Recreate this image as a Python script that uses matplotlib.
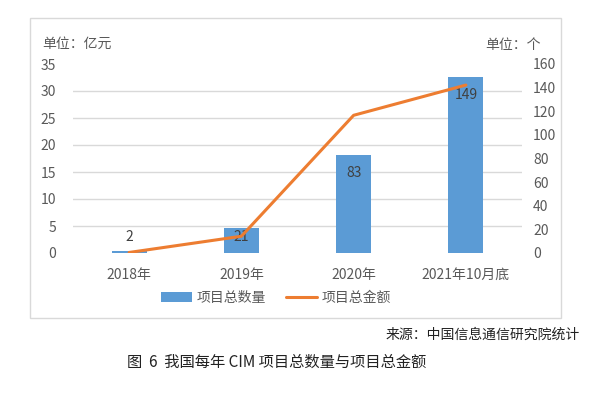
import matplotlib.pyplot as plt
from matplotlib.patches import Rectangle
import numpy as np

plt.rcParams['font.family'] = ['Noto Sans CJK SC', 'DejaVu Sans']

categories = ['2018年', '2019年', '2020年', '2021年10月底']
counts = [2, 21, 83, 149]            # 项目总数量 (个, right axis)
amounts = [0.1, 3.1, 25.5, 31.1]     # 项目总金额 (亿元, left axis)

blue = '#5B9BD5'
orange = '#ED7D31'
txt = '#595959'
grid_c = '#D9D9D9'

fig = plt.figure(figsize=(6, 3.93), dpi=100)

# outer chart frame
fig.patches.append(Rectangle((30 / 600, 1 - 318 / 393), 531 / 600, 300 / 393,
                             transform=fig.transFigure, fill=False,
                             edgecolor='#D9D9D9', linewidth=1))

ax = fig.add_axes([73 / 600, 1 - 253 / 393, 449 / 600, 189 / 393])
ax2 = ax.twinx()

x = np.arange(len(categories))

# left-axis gridlines, drawn on the lower axes so the bars sit on top
ax2.set_ylim(0, 160)
ax2.set_yticks(np.arange(0, 161, 20))
ax2.set_yticks(np.arange(0, 36, 5) * 160 / 35, minor=True)
ax2.grid(axis='y', which='minor', color=grid_c, linewidth=1, zorder=0)
ax2.set_axisbelow(True)

# bars on the right axis
bars = ax2.bar(x, counts, width=0.31, color=blue, zorder=2, label='项目总数量')
for xi, v in zip(x, counts):
    ax2.text(xi, max(v - 15, 13.5), str(v), ha='center', va='center',
             fontsize=10, color='#404040', zorder=4)

# line on the left axis
ax.set_zorder(ax2.get_zorder() + 1)
ax.patch.set_visible(False)
line, = ax.plot(x, amounts, color=orange, linewidth=2.2, zorder=3,
                solid_capstyle='round', label='项目总金额')
ax.set_ylim(0, 35)
ax.set_yticks(np.arange(0, 36, 5))
ax.set_xlim(-0.5, 3.5)
ax.set_xticks(x)
ax.set_xticklabels(categories)

for a in (ax, ax2):
    for s in a.spines.values():
        s.set_visible(False)
    a.tick_params(which='both', length=0, labelsize=10, colors=txt)
ax.tick_params(axis='y', pad=12)
ax2.tick_params(axis='y', pad=8)
ax.tick_params(axis='x', pad=11)

fig.text(42 / 600, 1 - 44 / 393, '单位：亿元', fontsize=10, color=txt, va='center')
fig.text(485 / 600, 1 - 45 / 393, '单位：个', fontsize=10, color=txt, va='center')

fig.legend([bars, line], ['项目总数量', '项目总金额'], loc='center',
           bbox_to_anchor=(0.46, 1 - 298 / 393), ncol=2, frameon=False,
           fontsize=10, labelcolor=txt, handlelength=2.2, columnspacing=1.5,
           handletextpad=0.3)

fig.text(580 / 600, 1 - 335 / 393, '来源：中国信息通信研究院统计', fontsize=10,
         color='#222222', ha='right', va='center')
fig.text(127 / 600, 1 - 362 / 393, '图  6  我国每年 CIM 项目总数量与项目总金额',
         fontsize=11, color='#222222', ha='left', va='center')

fig.savefig('out.png', dpi=100)
